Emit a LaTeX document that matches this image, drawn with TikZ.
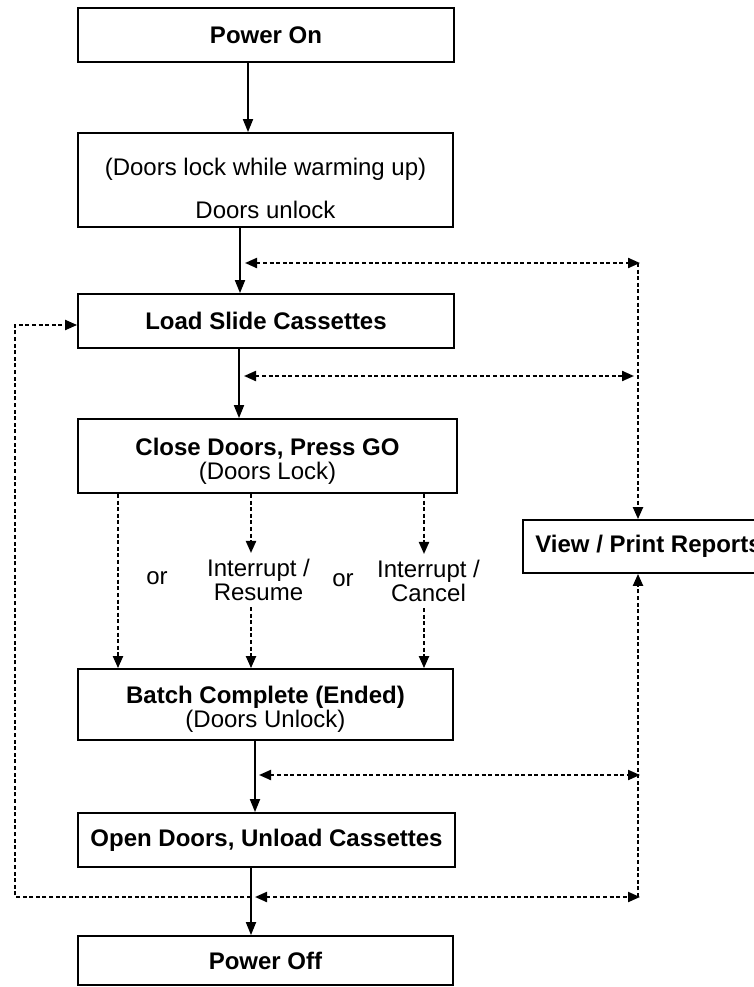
\documentclass[tikz,border=0pt]{standalone}
\usepackage{fontspec}
\setmainfont{Liberation Sans}
\usepackage{tikz}
\usetikzlibrary{positioning,arrows.meta}

\begin{document}
\begin{tikzpicture}[
			x=1pt, y=-1pt,
			font=\fontsize{24}{24}\selectfont,
			flowbox/.style={draw=black, line width=1.8pt, inner sep=0pt, minimum height=54pt, align=center},
			twobox/.style={flowbox, text height=51pt, text depth=5pt},
			sidetext/.style={inner xsep=0pt, inner ysep=6pt, align=center},
			flow/.style={-{Triangle[length=13pt,width=10pt]}, line width=1.8pt},
			dotline/.style={line width=2.1pt, dash pattern=on 4pt off 2.6pt},
			dotflow/.style={dotline, -{Triangle[length=12pt,width=10pt]}},
			dotboth/.style={dotline, {Triangle[length=12pt,width=10pt]}-{Triangle[length=12pt,width=10pt]}},
		]
		\useasboundingbox (0,0) rectangle (754,987);
	
			%Nodes
			\node[flowbox, minimum width=376pt]	(poweron)	at (266,35)		{\textbf{Power On}};
			\node[flowbox, minimum width=375pt, minimum height=94pt, text height=78pt, text depth=2pt]	(warmup)	at (265.5,180)	{(Doors lock while warming up)\\[19pt]Doors unlock};
			\node[flowbox, minimum width=376pt]	(load)		at (266,321)	{\textbf{Load Slide Cassettes}};
			\node[twobox, minimum width=379pt, minimum height=74pt]	(close)		at (267.5,456)	{\textbf{Close Doors, Press GO}\\(Doors Lock)};
			\node[twobox, minimum width=375pt, minimum height=71pt]	(batch)		at (265.5,704.5)	{\textbf{Batch Complete (Ended)}\\(Doors Unlock)};
			\node[flowbox, minimum width=377pt]	(opendoors)	at (266.5,840)	{\textbf{Open Doors, Unload Cassettes}};
			\node[flowbox, minimum width=375pt, minimum height=49pt]	(poweroff)	at (265.5,960.5)	{\textbf{Power Off}};
			\node[flowbox, minimum width=251pt, minimum height=53pt]	(reports)	at (648.5,546.5)	{\textbf{View / Print Reports}};
		
			\node[sidetext]	(or1)		at (157,578)	{or};
			\node[sidetext]	(or2)		at (343,580)	{or};
			\node[sidetext]	(resume)	at (258.5,580)	{Interrupt /\\Resume};
			\node[sidetext]	(cancel)	at (428.5,581)	{Interrupt /\\Cancel};
		
			\coordinate (j1) at (240,263);	\coordinate (k1) at (638,263);
			\coordinate (j2) at (239,376);	\coordinate (k2) at (638,376);
			\coordinate (j3) at (255,775);	\coordinate (k3) at (638,775);
			\coordinate (j4) at (251,897);	\coordinate (k4) at (638,897);
			\coordinate (c4) at (15,897);	\coordinate (c5) at (15,325);
		
			%Lines
			\draw[flow]	([xshift=-18pt]poweron.south) -- ([xshift=-17.5pt]warmup.north);
			\draw[flow]	([xshift=-25.5pt]warmup.south) -- ([xshift=-26pt]load.north);
			\draw[flow]	([xshift=-27pt]load.south) -- ([xshift=-28.5pt]close.north);
			\draw[dotflow]	([xshift=-149.5pt]close.south) -- ([xshift=-147.5pt]batch.north);
			\draw[dotflow]	([xshift=-16.5pt]close.south) -- ([xshift=-7.5pt]resume.north);
			\draw[dotflow]	([xshift=-7.5pt]resume.south) -- ([xshift=-14.5pt]batch.north);
			\draw[dotflow]	([xshift=156.5pt]close.south) -- ([xshift=-4.5pt]cancel.north);
			\draw[dotflow]	([xshift=-4.5pt]cancel.south) -- ([xshift=158.5pt]batch.north);
			\draw[flow]	([xshift=-10.5pt]batch.south) -- ([xshift=-11.5pt]opendoors.north);
			\draw[flow]	([xshift=-15.5pt]opendoors.south) -- ([xshift=-14.5pt]poweroff.north);
		
			%Report lines
			\draw[dotboth]	([xshift=5pt]j1) -- ([xshift=2pt]k1);
			\draw[dotboth]	([xshift=5pt]j2) -- ([xshift=-4pt]k2);
			\draw[dotboth]	([xshift=4pt]j3) -- ([xshift=2pt]k3);
			\draw[dotboth]	([xshift=4pt]j4) -- ([xshift=2pt]k4);
			\draw[dotflow]	(j4) -- (c4) -- (c5) -- (c5 -| load.west);
			\draw[dotflow]	(k1) -- (k1 |- reports.north);
			\draw[dotflow]	(k4) -- (k4 |- reports.south);
		
		\end{tikzpicture}
\end{document}
